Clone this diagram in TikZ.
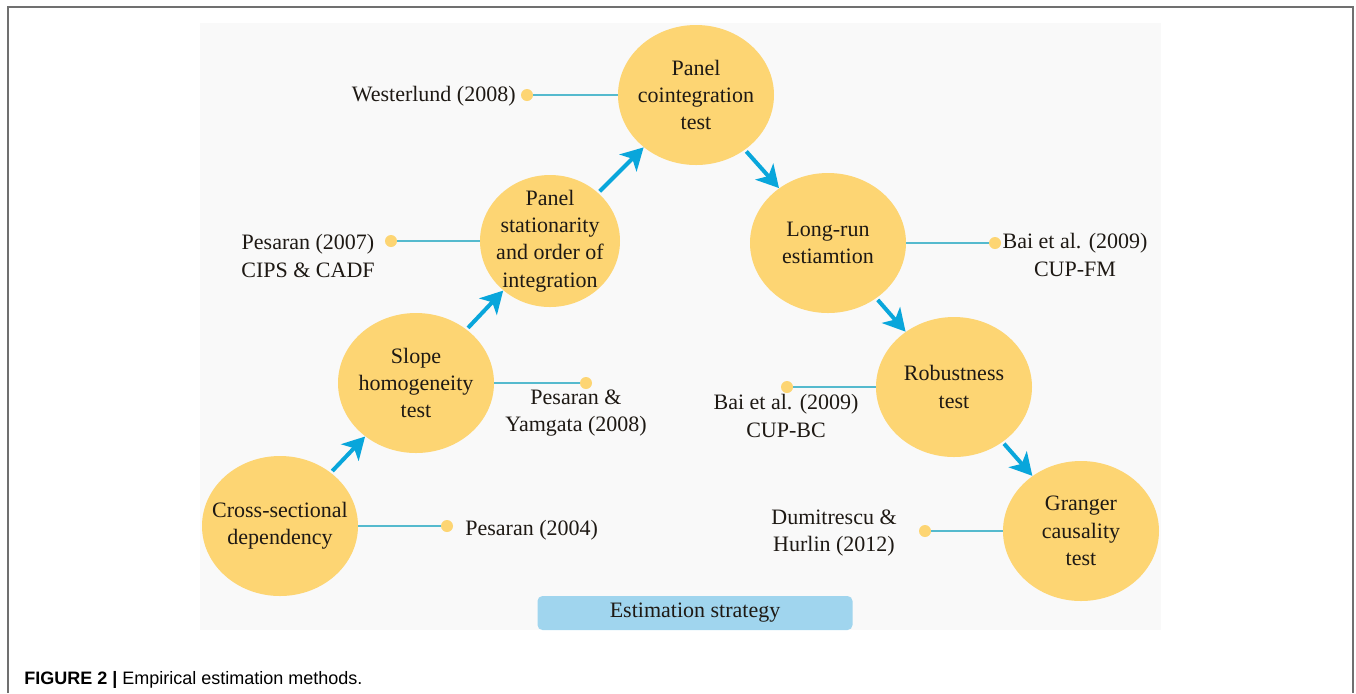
\documentclass[tikz,border=0pt]{standalone}
\usepackage{fontspec}
\setmainfont{Liberation Serif}
\newfontfamily\capfont{Liberation Sans}
\usetikzlibrary{shapes.geometric,arrows.meta}
\definecolor{stagefill}{RGB}{253,213,115}
\definecolor{flowblue}{RGB}{9,166,219}
\definecolor{linkteal}{RGB}{85,186,206}
\definecolor{legendblue}{RGB}{160,213,238}
\definecolor{panelgray}{RGB}{249,249,249}
\definecolor{framegray}{RGB}{112,112,112}
\definecolor{textdark}{RGB}{30,25,20}
\begin{document}
\begin{tikzpicture}[x=0.5pt,y=-0.5pt,
  phase/.style={ellipse, fill=stagefill, inner sep=-20pt, minimum width=78pt, minimum height=70pt,
    align=center, text=textdark, font=\fontsize{11}{13.7}\selectfont},
  refnote/.style={align=center, inner sep=0pt, text=textdark, font=\fontsize{11}{13.7}\selectfont},
  refdot/.style={circle, fill=stagefill, inner sep=0pt, minimum size=6pt},
  link/.style={draw=linkteal, line width=0.8pt},
  flow/.style={draw=flowblue, line width=2pt, -{Stealth[length=11pt,width=12pt,inset=3pt]}, shorten <=1pt}]
\useasboundingbox (0,0) rectangle (1356,693);
\fill[panelgray] (200,23) rectangle (1161,630);
\draw[framegray, line width=0.75pt] (8,693)--(8,7)--(1353,7)--(1353,693);

% stages
\node[phase] (coint) at (696,95) {Panel\\cointegration\\test};
\node[phase, minimum width=70pt, minimum height=66pt] (stat) at (550,241) {Panel\\stationarity\\and order of\\integration};
\node[phase] (slope) at (416,383) {Slope\\homogeneity\\test};
\node[phase] (cross) at (280,526) {Cross-sectional\\dependency};
\node[phase] (longrun) at (828,243) {Long-run\\estiamtion};
\node[phase] (robust) at (954,387) {Robustness\\test};
\node[phase] (granger) at (1081,531) {Granger\\causality\\test};

\draw[flow] (cross)--(slope);
\draw[flow] (slope)--(stat);
\draw[flow] (stat)--(coint);
\draw[flow] (coint)--(longrun);
\draw[flow] (longrun)--(robust);
\draw[flow] (robust)--(granger);

% references
\node[refdot] (dotwest) at (527,95) {};
\node[refdot] (dotcips) at (391,241) {};
\node[refdot] (dotpy) at (586,383) {};
\node[refdot] (dotpes) at (447,526) {};
\node[refdot] (dotfm) at (995,243) {};
\node[refdot] (dotbc) at (787,387) {};
\node[refdot] (dotdh) at (925,531) {};

\draw[link] (dotwest)--(coint.west);
\draw[link] (dotcips)--(stat.west);
\draw[link] (slope.east)--(dotpy);
\draw[link] (cross.east)--(dotpes);
\draw[link] (longrun.east)--(dotfm);
\draw[link] (dotbc)--(robust.west);
\draw[link] (dotdh)--(granger.west);

\node[refnote, anchor=east] (westerlund) at (516,96) {Westerlund (2008)};
\node[refnote] (cips) at (308,256) {Pesaran (2007)\\CIPS \& CADF};
\node[refnote] (yamgata) at (576,413) {Pesaran \&\\Yamgata (2008)};
\node[refnote, anchor=west] (pes) at (465,530) {Pesaran (2004)};
\node[refnote] (cupfm) at (1075,255) {Bai et al. (2009)\\CUP-FM};
\node[refnote] (cupbc) at (786,416) {Bai et al. (2009)\\CUP-BC};
\node[refnote] (dumitrescu) at (834,533) {Dumitrescu \&\\Hurlin (2012)};

\node[fill=legendblue, rounded corners=2.5pt, minimum width=157.5pt, minimum height=17pt,
  text=textdark, font=\fontsize{11}{13}\selectfont] (legend) at (695,613) {Estimation strategy};

\node[anchor=base west, inner sep=0pt, font=\capfont\fontsize{9}{11}\selectfont] (caption) at (24,684)
  {\textbf{FIGURE 2 |} Empirical estimation methods.};
\end{tikzpicture}
\end{document}
